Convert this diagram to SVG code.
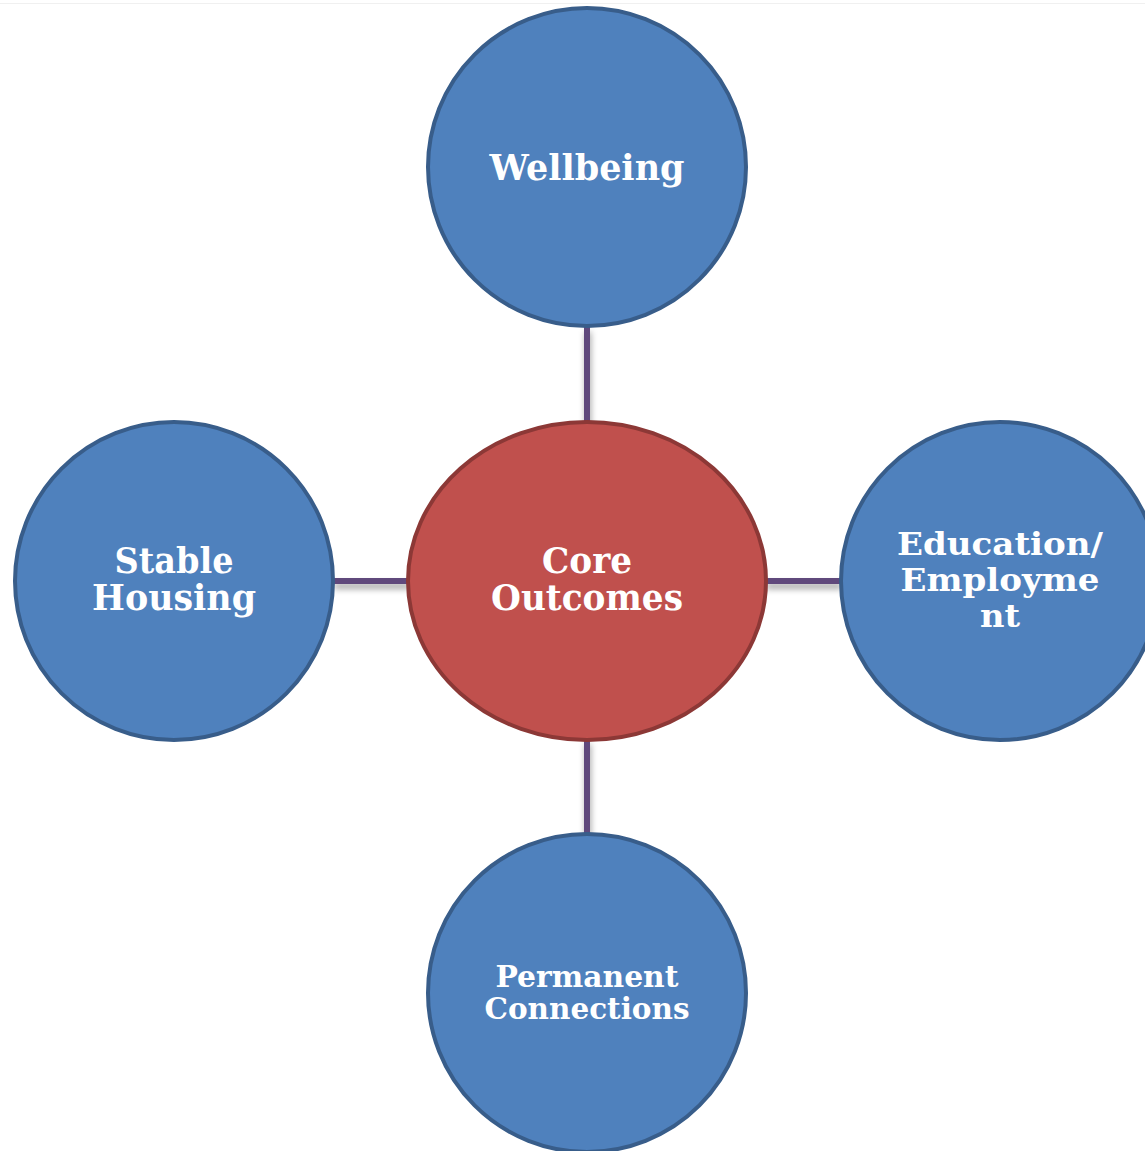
<svg xmlns="http://www.w3.org/2000/svg" width="1145" height="1151" viewBox="0 0 1145 1151">
<style>
.blue{fill:#4f81bd;stroke:#385d8a;stroke-width:4}
.red{fill:#c0504d;stroke:#8c3836;stroke-width:4}
.lbl{font-family:"DejaVu Serif","Liberation Serif",serif;font-weight:bold;fill:#ffffff;text-anchor:middle}
.conn{stroke:#604a7b;stroke-width:6;fill:none}
</style>
<defs>
<filter id="sh" x="-50%" y="-50%" width="200%" height="200%">
<feDropShadow dx="1" dy="5" stdDeviation="3" flood-color="#000" flood-opacity="0.35"/>
</filter>
</defs>
<rect width="1145" height="1151" fill="#ffffff"/>
<line x1="0" y1="3.5" x2="1145" y2="3.5" stroke="#f0f0f0" stroke-width="1"/>
<g id="connectors" filter="url(#sh)">
<line class="conn" x1="587" y1="327" x2="587" y2="423"/>
<line class="conn" x1="333" y1="581" x2="409" y2="581"/>
<line class="conn" x1="765" y1="581" x2="841" y2="581"/>
<line class="conn" x1="587" y1="739" x2="587" y2="835"/>
</g>
<g id="wellbeing">
<circle class="blue" cx="587" cy="167" r="159"/>
<text class="lbl" x="587" y="180" font-size="35" textLength="195" lengthAdjust="spacingAndGlyphs">Wellbeing</text>
</g>
<g id="core">
<ellipse class="red" cx="587" cy="581" rx="179" ry="159"/>
<text class="lbl" x="587" y="573" font-size="35" textLength="90" lengthAdjust="spacingAndGlyphs">Core</text>
<text class="lbl" x="587" y="610" font-size="35" textLength="192" lengthAdjust="spacingAndGlyphs">Outcomes</text>
</g>
<g id="housing">
<circle class="blue" cx="174" cy="581" r="159"/>
<text class="lbl" x="174" y="573" font-size="35" textLength="119" lengthAdjust="spacingAndGlyphs">Stable</text>
<text class="lbl" x="174" y="610" font-size="35" textLength="164" lengthAdjust="spacingAndGlyphs">Housing</text>
</g>
<g id="education">
<circle class="blue" cx="1000" cy="581" r="159"/>
<text class="lbl" x="1000" y="555" font-size="32" textLength="206" lengthAdjust="spacingAndGlyphs">Education/</text>
<text class="lbl" x="1000" y="591" font-size="32" textLength="199" lengthAdjust="spacingAndGlyphs">Employme</text>
<text class="lbl" x="1000" y="627" font-size="32" textLength="40" lengthAdjust="spacingAndGlyphs">nt</text>
</g>
<g id="permanent">
<circle class="blue" cx="587" cy="993" r="159"/>
<text class="lbl" x="587" y="987" font-size="29" textLength="183" lengthAdjust="spacingAndGlyphs">Permanent</text>
<text class="lbl" x="587" y="1019" font-size="29" textLength="205" lengthAdjust="spacingAndGlyphs">Connections</text>
</g>
</svg>
